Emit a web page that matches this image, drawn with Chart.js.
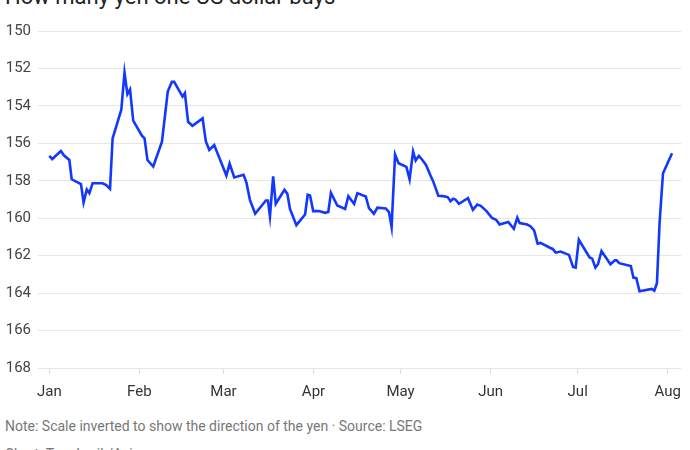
<!DOCTYPE html>
<html>
<head>
<meta charset="utf-8">
<script src="https://cdn.jsdelivr.net/npm/chart.js@4"></script>
<style>
  html, body { margin: 0; padding: 0; background: #fff; }
  body { width: 690px; height: 450px; position: relative; overflow: hidden; font-family: Roboto, "Noto Sans", sans-serif; }
  #title { position: absolute; left: 5px; top: -18px; font-size: 22px; line-height: 30px; color: #222; white-space: nowrap; }
  #wrap { position: absolute; left: 0; top: 0; width: 690px; height: 412px; }
  #note { position: absolute; left: 5px; top: 418px; font-size: 14px; color: #777; white-space: nowrap; }
  #credit { position: absolute; left: 5px; top: 446px; font-size: 14px; color: #777; white-space: nowrap; }
</style>
</head>
<body>
<div id="title">How many yen one US dollar buys</div>
<div id="wrap"><canvas id="chart"></canvas></div>
<div id="note">Note: Scale inverted to show the direction of the yen · Source: LSEG</div>
<div id="credit">Chart: Tory Lysik/Axios</div>
<script>
// day of year (0 = Jan 1) and yen per dollar
const days = [0, 1, 4, 5, 6.9, 7.7, 10.9, 11.8, 12.9, 13.8, 14.9, 18.3, 19.5, 20.9, 21.8, 24.8, 25.9, 26.9, 27.8, 28.9,
  31.9, 32.8, 33.8, 35.8, 38.8, 39.9, 40.8, 42.2, 43, 45.9, 46.7, 47.8, 49.3, 52.8, 53.9, 55.1, 56.8, 61, 62.1, 63.7,
  66.9, 67.9, 69.1, 70.9, 74.6, 75.3, 76, 77.1, 78, 81, 82, 82.9, 85.1, 88.1, 89, 89.8, 90.9, 92.9, 95, 96.1,
  97, 99.2, 101.9, 103, 105, 106.1, 109, 110.1, 111.8, 113, 115.9, 117, 117.9, 119.1, 120.3, 123, 124.1, 125.3, 126.2, 127.3,
  128.5, 129.8, 131.3, 132.2, 134, 135.6, 137.2, 138.2, 139.1, 139.9, 141.1, 144.2, 145.9, 147.4, 148.6, 150.6, 152.5, 153.9, 155.1, 158.1,
  160, 161.2, 162, 164.6, 165.8, 167, 168.2, 169.2, 172.6, 173.4, 174.4, 176.1, 179, 180.4, 181.3, 182.4, 186.1, 187, 188.1, 189,
  190.2, 193.3, 194.8, 195.4, 196.3, 200.3, 201.2, 202.2, 203.3, 207.5, 208.4, 209.3, 210.2, 210.8, 211.4, 214.5];
const yen = [156.67, 156.84, 156.41, 156.64, 156.89, 157.92, 158.18, 159.16, 158.47, 158.66, 158.13, 158.13, 158.22, 158.43, 155.74, 154.2, 152.22, 153.37, 153.12, 154.79,
  155.59, 155.73, 156.89, 157.24, 155.91, 154.44, 153.23, 152.72, 152.72, 153.5, 153.32, 154.85, 155.06, 154.67, 155.89, 156.35, 156.09, 157.72, 157.08, 157.82,
  157.68, 158.1, 159.02, 159.76, 159.05, 159.05, 159.9, 157.76, 159.23, 158.48, 158.7, 159.5, 160.37, 159.8, 158.75, 158.79, 159.62, 159.62, 159.71, 159.67,
  158.64, 159.32, 159.5, 158.82, 159.23, 158.66, 158.84, 159.46, 159.76, 159.44, 159.48, 159.67, 160.47, 156.6, 157.06, 157.26, 157.92, 156.43, 156.92, 156.67,
  156.89, 157.17, 157.72, 158.02, 158.8, 158.82, 158.87, 159.09, 158.96, 159.0, 159.23, 158.93, 159.55, 159.27, 159.34, 159.62, 159.99, 160.08, 160.33, 160.2,
  160.56, 159.97, 160.26, 160.34, 160.44, 160.65, 161.36, 161.32, 161.59, 161.64, 161.84, 161.78, 161.96, 162.6, 162.64, 161.15, 162.1, 162.16, 162.64, 162.46,
  161.75, 162.46, 162.25, 162.25, 162.4, 162.55, 163.17, 163.2, 163.9, 163.78, 163.87, 163.47, 160.29, 158.9, 157.6, 156.53];
const monthStarts = [0, 31, 60, 91, 121, 152, 182, 213];
const monthLabels = ['Jan', 'Feb', 'Mar', 'Apr', 'May', 'Jun', 'Jul', 'Aug'];
const yTicks = [150, 152, 154, 156, 158, 160, 162, 164, 166, 168];

const points = days.map((d, i) => ({ x: d, y: yen[i] }));

new Chart(document.getElementById('chart'), {
  type: 'line',
  data: {
    datasets: [{
      data: points,
      borderColor: '#1238ff',
      borderWidth: 2.6,
      pointRadius: 0,
      tension: 0,
      fill: false
    }]
  },
  options: {
    responsive: true,
    maintainAspectRatio: false,
    animation: false,
    layout: { padding: { top: 31, right: 6, left: 0, bottom: 0 } },
    plugins: { legend: { display: false }, tooltip: { enabled: false } },
    scales: {
      x: {
        type: 'linear',
        min: -3.9,
        max: 217.7,
        afterBuildTicks: (scale) => { scale.ticks = monthStarts.map(v => ({ value: v })); },
        afterFit: (scale) => { scale.height = 44; },
        ticks: {
          callback: (v) => monthLabels[monthStarts.indexOf(v)],
          color: '#333',
          font: { family: 'Roboto', size: 15 },
          padding: 9,
          maxRotation: 0,
          autoSkip: false
        },
        grid: { drawOnChartArea: false, drawTicks: true, tickLength: 6, color: '#dcdcdc' },
        border: { display: false }
      },
      y: {
        reverse: true,
        min: 150,
        max: 168,
        afterBuildTicks: (scale) => { scale.ticks = yTicks.map(v => ({ value: v })); },
        afterFit: (scale) => { scale.width = 38; },
        ticks: {
          color: '#444',
          font: { family: 'Roboto', size: 15 },
          padding: 7
        },
        grid: { color: '#e6e6e6', drawTicks: false, lineWidth: 1 },
        border: { display: false }
      }
    }
  }
});
</script>
</body>
</html>
